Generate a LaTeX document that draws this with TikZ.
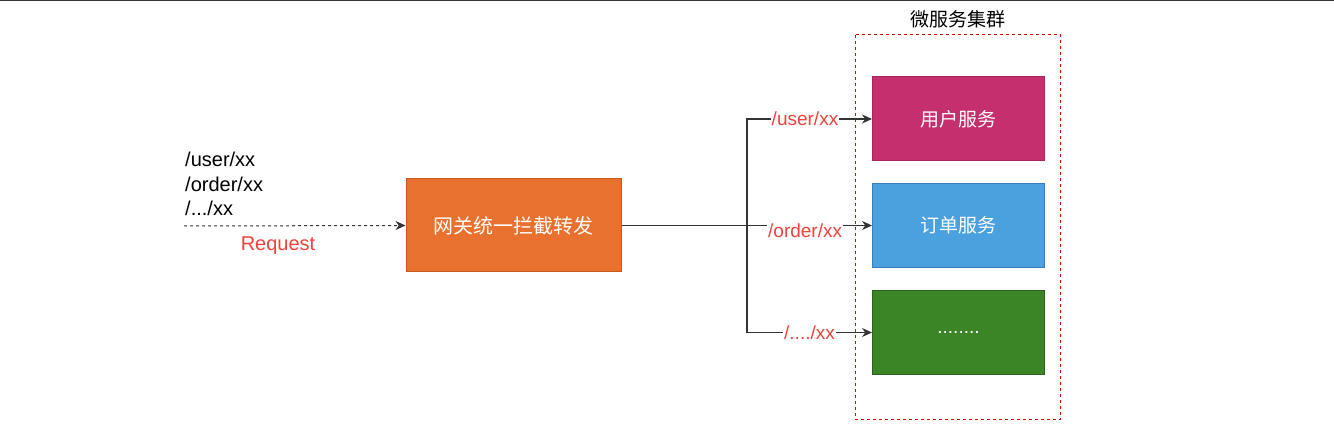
\documentclass[tikz,border=0pt]{standalone}
\usepackage{fontspec}
\setmainfont{Liberation Sans}
\newfontfamily\cjk{Noto Sans CJK SC}
\usetikzlibrary{arrows.meta}
\definecolor{gwfill}{HTML}{E9712F}
\definecolor{gwdraw}{HTML}{C45A1E}
\definecolor{userfill}{HTML}{C62F6E}
\definecolor{userdraw}{HTML}{A3255A}
\definecolor{orderfill}{HTML}{4AA1DD}
\definecolor{orderdraw}{HTML}{3A7DBE}
\definecolor{dotfill}{HTML}{3B8527}
\definecolor{dotdraw}{HTML}{2C631C}
\definecolor{lblred}{HTML}{F0413C}
\definecolor{linegray}{HTML}{333333}
\tikzset{
  box/.style={draw, line width=1pt, minimum width=#1, inner sep=0pt, text=white},
  svc/.style={box=172pt, minimum height=84pt, font=\cjk\fontsize{19}{22}\selectfont},
  conn/.style={draw=linegray, line width=1.3pt},
  arr/.style={conn, -{Stealth[length=10pt,width=9pt]}},
  elabel/.style={fill=white, text=lblred, inner sep=1pt, font=\fontsize{19}{22}\selectfont},
  plain/.style={font=\fontsize{20}{24}\selectfont, inner sep=0pt, anchor=west},
}
\begin{document}
\begin{tikzpicture}[x=1pt,y=-1pt]
\useasboundingbox (0,0) rectangle (1334,427);
\fill[linegray] (0,0) rectangle (1334,1.5);
% left texts
\node[plain] (t1) at (185,159) {/user/xx};
\node[plain] (t2) at (185,184) {/order/xx};
\node[plain] (t3) at (185,208) {/.../xx};
\node[font=\fontsize{20}{24}\selectfont, text=lblred, inner sep=0pt] (req) at (278,246) {Request};
\coordinate (start) at (184,226);
% gateway
\node[box=215pt, minimum height=93pt, fill=gwfill, draw=gwdraw, font=\cjk\fontsize{20}{24}\selectfont] (gw) at (513.5,225.5) {网关统一拦截转发};
\draw[arr, dashed, dash pattern=on 3pt off 3pt, line width=1pt] (start) -- (gw.west);
% cluster
\draw[draw=red!90!black, line width=1pt, dash pattern=on 3pt off 3pt] (855.5,35) rectangle (1060.5,419.5);
\node[font=\cjk\fontsize{19}{22}\selectfont, inner sep=0pt] (title) at (958,19) {微服务集群};
% services
\node[svc, fill=userfill, draw=userdraw] (user) at (958.5,119) {用户服务};
\node[svc, fill=orderfill, draw=orderdraw] (order) at (958.5,225.5) {订单服务};
\node[svc, fill=dotfill, draw=dotdraw, font=\fontsize{19}{22}\selectfont] (dots) at (958.5,332.5) {........};
% connectors
\coordinate (tj) at (747,225.5);
\draw[arr] (gw.east) -- (order.west) node[elabel, pos=0.733, yshift=-5pt] {/order/xx};
\draw[arr] (tj) |- (user.west) node[elabel, pos=0.732] {/user/xx};
\draw[arr] (tj) |- (dots.west) node[elabel, pos=0.75] {/..../xx};
\end{tikzpicture}
\end{document}
